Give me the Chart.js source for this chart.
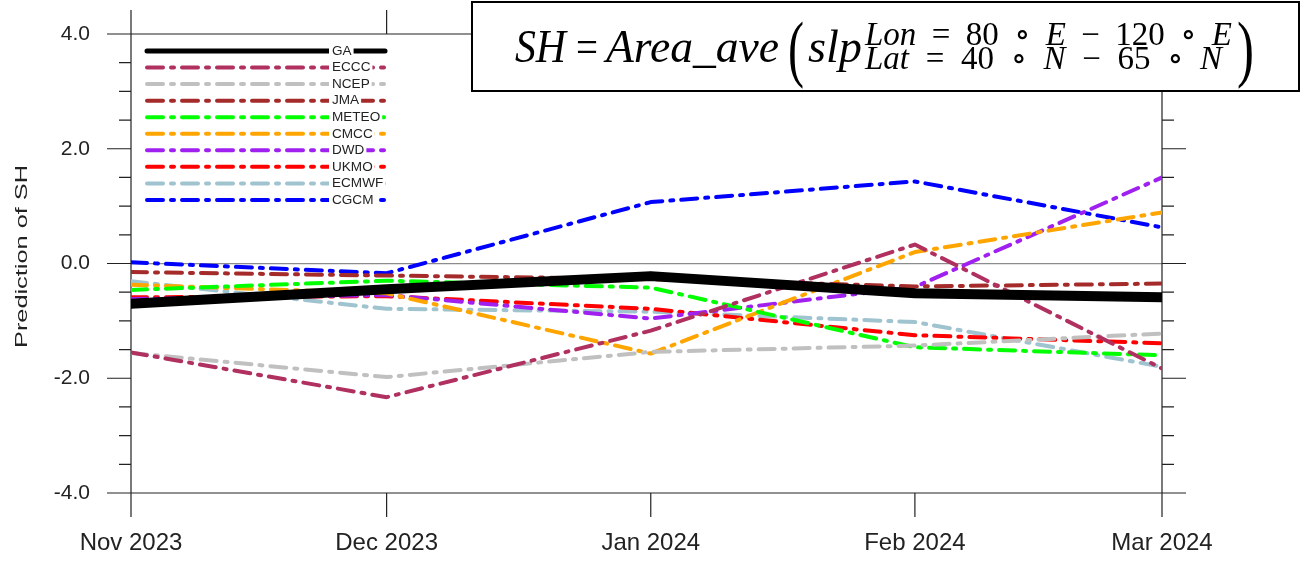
<!DOCTYPE html>
<html>
<head>
<meta charset="utf-8">
<script src="https://cdn.jsdelivr.net/npm/chart.js@4.4.1/dist/chart.umd.min.js"></script>
<style>
html,body{margin:0;padding:0;background:#ffffff;}
#wrap{width:1304px;height:567px;position:relative;}
canvas{display:block;}
</style>
</head>
<body>
<div id="wrap"><canvas id="c" width="1304" height="567"></canvas></div>
<script>
// ---------------- DATA ----------------
const monthDates  = ['2023-11-01', '2023-12-01', '2024-01-01', '2024-02-01', '2024-03-01'];
const monthLabels = ['Nov 2023', 'Dec 2023', 'Jan 2024', 'Feb 2024', 'Mar 2024'];
const yTickValues = [-4, -2, 0, 2, 4];

const modelNames = ['GA', 'ECCC', 'NCEP', 'JMA', 'METEO', 'CMCC', 'DWD', 'UKMO', 'ECMWF', 'CGCM'];
const GA    = [-0.70, -0.45, -0.22, -0.52, -0.59];
const ECCC  = [-1.55, -2.33, -1.17,  0.33, -1.83];
const NCEP  = [-1.56, -1.98, -1.54, -1.43, -1.22];
const JMA   = [-0.15, -0.21, -0.27, -0.40, -0.35];
const METEO = [-0.46, -0.30, -0.42, -1.46, -1.60];
const CMCC  = [-0.37, -0.52, -1.57,  0.20,  0.89];
const DWD   = [-0.62, -0.55, -0.96, -0.41,  1.50];
const UKMO  = [-0.59, -0.57, -0.79, -1.25, -1.39];
const ECMWF = [-0.31, -0.79, -0.84, -1.02, -1.80];
const CGCM  = [ 0.02, -0.17,  1.07,  1.43,  0.63];

const axisTitle = 'Prediction of SH';

// ---------------- STYLE ----------------
const seriesValues = [GA, ECCC, NCEP, JMA, METEO, CMCC, DWD, UKMO, ECMWF, CGCM];
const seriesColors = ['#000000', '#b03060', '#c0c0c0', '#a52a2a', '#00ff00', '#ffa500', '#a020f0', '#ff0000', '#9fc3cf', '#0000ff'];

const dayX = monthDates.map(d => (Date.parse(d) - Date.parse(monthDates[0])) / 86400000);
const DASH = [16, 8, 3, 8];

const datasets = seriesValues.map((vals, i) => ({
  label: modelNames[i],
  data: vals.map((v, j) => ({ x: dayX[j], y: v })),
  borderColor: seriesColors[i],
  backgroundColor: seriesColors[i],
  borderWidth: i === 0 ? 10 : 4,
  borderDash: i === 0 ? [] : DASH,
  borderCapStyle: 'round',
  borderJoinStyle: 'round',
  pointRadius: 0,
  pointHoverRadius: 0,
  tension: 0,
  fill: false
}));

const SANS = "'Liberation Sans', Arial, Helvetica, sans-serif";
const SERIF = "'Liberation Serif', 'DejaVu Serif', serif";

// frame + ticks (positions from scales)
const framePlugin = {
  id: 'frame',
  beforeDatasetsDraw(chart) {
    const { ctx, chartArea: { left: L, right: R, top: T, bottom: B }, scales: { x, y } } = chart;
    ctx.save();
    ctx.strokeStyle = '#222';
    ctx.lineWidth = 1.2;
    ctx.beginPath();
    ctx.rect(L, T, R - L, B - T);
    const yMin = yTickValues[0], yMax = yTickValues[yTickValues.length - 1];
    for (let v = yMin; v <= yMax + 1e-9; v += 0.5) {
      const py = y.getPixelForValue(v);
      const major = yTickValues.some(t => Math.abs(t - v) < 1e-9);
      const len = major ? 24 : 12;
      ctx.moveTo(L - len, py); ctx.lineTo(L, py);
      ctx.moveTo(R, py); ctx.lineTo(R + len, py);
    }
    dayX.forEach(d => {
      const px = x.getPixelForValue(d);
      ctx.moveTo(px, B); ctx.lineTo(px, B + 24);
      ctx.moveTo(px, T); ctx.lineTo(px, T - 24);
    });
    ctx.stroke();
    ctx.restore();
  }
};

// NCL-style legend + y title + formula box
const overlayPlugin = {
  id: 'overlay',
  afterDraw(chart) {
    const ctx = chart.ctx;
    // ---- legend ----
    ctx.save();
    const x0 = 147, x1 = 385, labelX = 332, y0 = 51, step = 16.55;
    chart.data.datasets.forEach((ds, i) => {
      const yy = y0 + i * step;
      ctx.save();
      ctx.strokeStyle = ds.borderColor;
      ctx.lineWidth = i === 0 ? 5 : 4;
      ctx.lineCap = 'round';
      ctx.setLineDash(ds.borderDash || []);
      ctx.beginPath(); ctx.moveTo(x0, yy); ctx.lineTo(x1, yy); ctx.stroke();
      ctx.restore();
      ctx.font = '12px ' + SANS;
      const sx = 1.13;
      const tw = ctx.measureText(ds.label).width * sx;
      ctx.fillStyle = '#ffffff';
      ctx.fillRect(labelX - 3, yy - 7, tw + 5, 14);
      ctx.save();
      ctx.translate(labelX, yy);
      ctx.scale(sx, 1);
      ctx.fillStyle = '#222';
      ctx.textBaseline = 'middle';
      ctx.textAlign = 'left';
      ctx.fillText(ds.label, 0, 0.5);
      ctx.restore();
    });
    ctx.restore();

    // ---- y axis title ----
    ctx.save();
    ctx.font = '17px ' + SANS;
    const w = ctx.measureText(axisTitle).width;
    ctx.translate(27, 256.5);
    ctx.rotate(-Math.PI / 2);
    ctx.scale(183 / w, 1);
    ctx.fillStyle = '#222';
    ctx.textAlign = 'center';
    ctx.textBaseline = 'alphabetic';
    ctx.fillText(axisTitle, 0, 0);
    ctx.restore();

    // ---- formula box ----
    ctx.save();
    ctx.fillStyle = '#ffffff';
    ctx.fillRect(471, 0, 833, 92);
    ctx.strokeStyle = '#000';
    ctx.lineWidth = 2;
    ctx.strokeRect(472, 2, 827, 89);
    ctx.fillStyle = '#000';
    const fontOf = (p, size) => (p[1] ? 'italic ' : '') + size + 'px ' + SERIF;
    function spread(pieces, xa, xb, base, size) {
      let total = 0; const ws = [];
      pieces.forEach(p => { ctx.font = fontOf(p, size); const m = ctx.measureText(p[0]).width; ws.push(m); total += m; });
      let gap = pieces.length > 1 ? (xb - xa - total) / (pieces.length - 1) : 0;
      let s = 1;
      if (gap < 0 || pieces.length === 1) { s = (xb - xa) / total; gap = 0; }
      ctx.save();
      ctx.translate(xa, base);
      ctx.scale(s, 1);
      ctx.textAlign = 'left';
      ctx.textBaseline = 'alphabetic';
      let xx = 0;
      pieces.forEach((p, i) => { ctx.font = fontOf(p, size); ctx.fillText(p[0], xx, 0); xx += ws[i] + gap / s; });
      ctx.restore();
    }
    spread([['SH', true]], 515, 566, 62, 47);
    spread([['=', false]], 576, 598, 62, 47);
    spread([['Area_ave', true]], 606, 779, 62, 47);
    spread([['(', false]], 788, 804, 73, 74);
    spread([['slp', true]], 808, 862, 62, 47);
    spread([['Lon', true], ['=', false], ['80', false], ['\u2218', false], ['E', true], ['\u2212', false], ['120', false], ['\u2218', false], ['E', true]], 865, 1232, 45, 33);
    spread([['Lat', true], ['=', false], ['40', false], ['\u2218', false], ['N', true], ['\u2212', false], ['65', false], ['\u2218', false], ['N', true]], 865, 1222, 69, 33);
    spread([[')', false]], 1237, 1254, 73, 74);
    ctx.restore();
  }
};

new Chart(document.getElementById('c'), {
  type: 'line',
  data: { datasets },
  options: {
    responsive: false,
    devicePixelRatio: 1,
    animation: false,
    events: [],
    layout: { padding: { left: 0, right: 142, top: 34, bottom: 0 } },
    plugins: { legend: { display: false }, tooltip: { enabled: false }, title: { display: false } },
    scales: {
      x: {
        type: 'linear',
        min: dayX[0],
        max: dayX[dayX.length - 1],
        afterBuildTicks(scale) { scale.ticks = dayX.map(v => ({ value: v })); },
        afterFit(scale) { scale.height = 74; scale.paddingLeft = 0; scale.paddingRight = 0; },
        grid: { display: true, drawTicks: false, color: 'rgba(0,0,0,0)' },
        border: { display: false },
        ticks: {
          autoSkip: false, maxRotation: 0, minRotation: 0,
          padding: 36,
          color: '#222',
          font: { family: SANS, size: 24 },
          callback: (v) => monthLabels[dayX.indexOf(v)]
        }
      },
      y: {
        type: 'linear',
        min: yTickValues[0],
        max: yTickValues[yTickValues.length - 1],
        afterBuildTicks(scale) { scale.ticks = yTickValues.map(v => ({ value: v })); },
        afterFit(scale) { scale.width = 131; scale.paddingTop = 0; scale.paddingBottom = 0; },
        grid: {
          display: true, drawTicks: false, lineWidth: 1.2,
          color: (c) => (c.tick && c.tick.value === 0) ? '#8c8c8c' : 'rgba(0,0,0,0)'
        },
        border: { display: false },
        ticks: {
          padding: 41,
          color: '#222',
          font: { family: SANS, size: 21 },
          callback: (v) => Number(v).toFixed(1)
        }
      }
    }
  },
  plugins: [framePlugin, overlayPlugin]
});
</script>
</body>
</html>
